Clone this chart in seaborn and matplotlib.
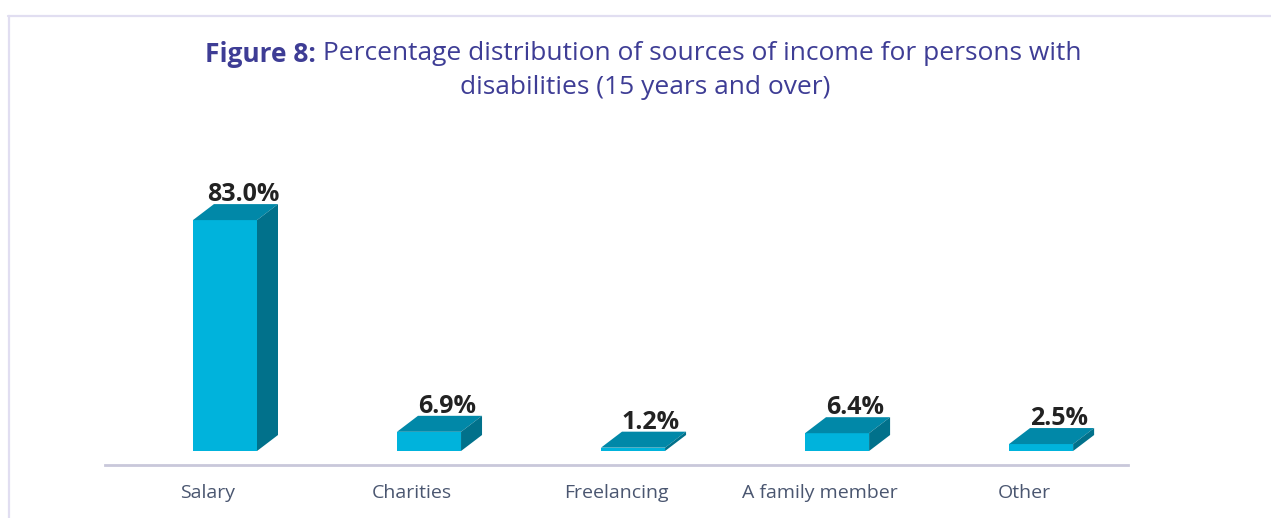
import matplotlib
matplotlib.use("Agg")
import matplotlib.pyplot as plt
import matplotlib.transforms as mtransforms
from matplotlib.patches import Polygon
from matplotlib.lines import Line2D
import seaborn as sns
import pandas as pd

categories = ["Salary", "Charities", "Freelancing", "A family member", "Other"]
values = [83.0, 6.9, 1.2, 6.4, 2.5]
value_labels = ["83.0%", "6.9%", "1.2%", "6.4%", "2.5%"]
title_bold = "Figure 8:"
title_rest = " Percentage distribution of sources of income for persons with"
title_line2 = "disabilities (15 years and over)"

FRONT = "#00B3DC"
TOP = "#0188A8"
SIDE = "#01718B"
TITLE_C = "#3E3D95"
TICK_C = "#4A5670"

sns.set_theme(style="white")
plt.rcParams["font.family"] = ["Open Sans", "DejaVu Sans"]

df = pd.DataFrame({"cat": categories, "val": values})

fig = plt.figure(figsize=(12.71, 5.18), dpi=100)
ax = fig.add_axes([105 / 1271, (518 - 465) / 518, 1023 / 1271, (465 - 150) / 518])
sns.barplot(data=df, x="cat", y="val", color=FRONT, width=0.314, ax=ax,
            saturation=1, edgecolor="none", linewidth=0, zorder=3)
ax.set_xlim(-0.588, 4.426)
ax.set_ylim(-5.03, 108.2)
ax.set_xlabel("")
ax.set_ylabel("")
ax.set_yticks([])
# category labels sit slightly left of the bar fronts (as in the reference)
ax.set_xticks([i - 0.083 for i in range(len(categories))])
ax.set_xticklabels(categories)
for s in ["top", "right", "left"]:
    ax.spines[s].set_visible(False)
ax.spines["bottom"].set_color("#C9C8DA")
ax.spines["bottom"].set_linewidth(2)
ax.tick_params(axis="x", length=0, pad=14, labelsize=14, labelcolor=TICK_C)

# 3D depth offsets (points)
dx, dy = 21 * 0.72, 16 * 0.72
off = mtransforms.ScaledTranslation(dx / 72, dy / 72, fig.dpi_scale_trans)
for p, lab in zip(ax.patches, value_labels):
    x0 = p.get_x()
    w = p.get_width()
    h = p.get_height()
    x1 = x0 + w
    tr = ax.transData
    tb = ax.transData + off
    front_l = tr.transform((x0, h))
    front_r = tr.transform((x1, h))
    back_l = tb.transform((x0, h))
    back_r = tb.transform((x1, h))
    bot_r = tr.transform((x1, 0))
    bot_rb = tb.transform((x1, 0))
    inv = ax.transData.inverted()
    top_poly = Polygon(inv.transform([front_l, front_r, back_r, back_l]), closed=True,
                       facecolor=TOP, edgecolor="none", zorder=3)
    side_poly = Polygon(inv.transform([front_r, bot_r, bot_rb, back_r]), closed=True,
                        facecolor=SIDE, edgecolor="none", zorder=3)
    ax.add_patch(top_poly)
    ax.add_patch(side_poly)
    ax.annotate(lab, xy=(x0 + w / 2, h), xytext=(18 * 0.72, 13.7),
                textcoords="offset points", ha="center", va="baseline",
                fontsize=18, fontweight="bold", color="#222222", zorder=4)

# Title pieces
fig.canvas.draw()
r = fig.canvas.get_renderer()
t1 = fig.text(205 / 1271, 1 - 54 / 518, title_bold, fontsize=19, fontweight="bold",
              color=TITLE_C, ha="left", va="center")
bb = t1.get_window_extent(renderer=r)
fig.text(bb.x1 / 1271, 1 - 54 / 518, title_rest, fontsize=19, color=TITLE_C,
         ha="left", va="center")
fig.text(645 / 1271, 1 - 87 / 518, title_line2, fontsize=19, color=TITLE_C,
         ha="center", va="center")

# frame lines
fig.add_artist(Line2D([8 / 1271, 1.0], [1 - 15.5 / 518, 1 - 15.5 / 518],
                      transform=fig.transFigure, color="#E1DEF1", linewidth=1.6))
fig.add_artist(Line2D([8.5 / 1271, 8.5 / 1271], [0, 1 - 15.5 / 518],
                      transform=fig.transFigure, color="#E1DEF1", linewidth=1.6))

fig.savefig("out.png", dpi=100, facecolor="white")
